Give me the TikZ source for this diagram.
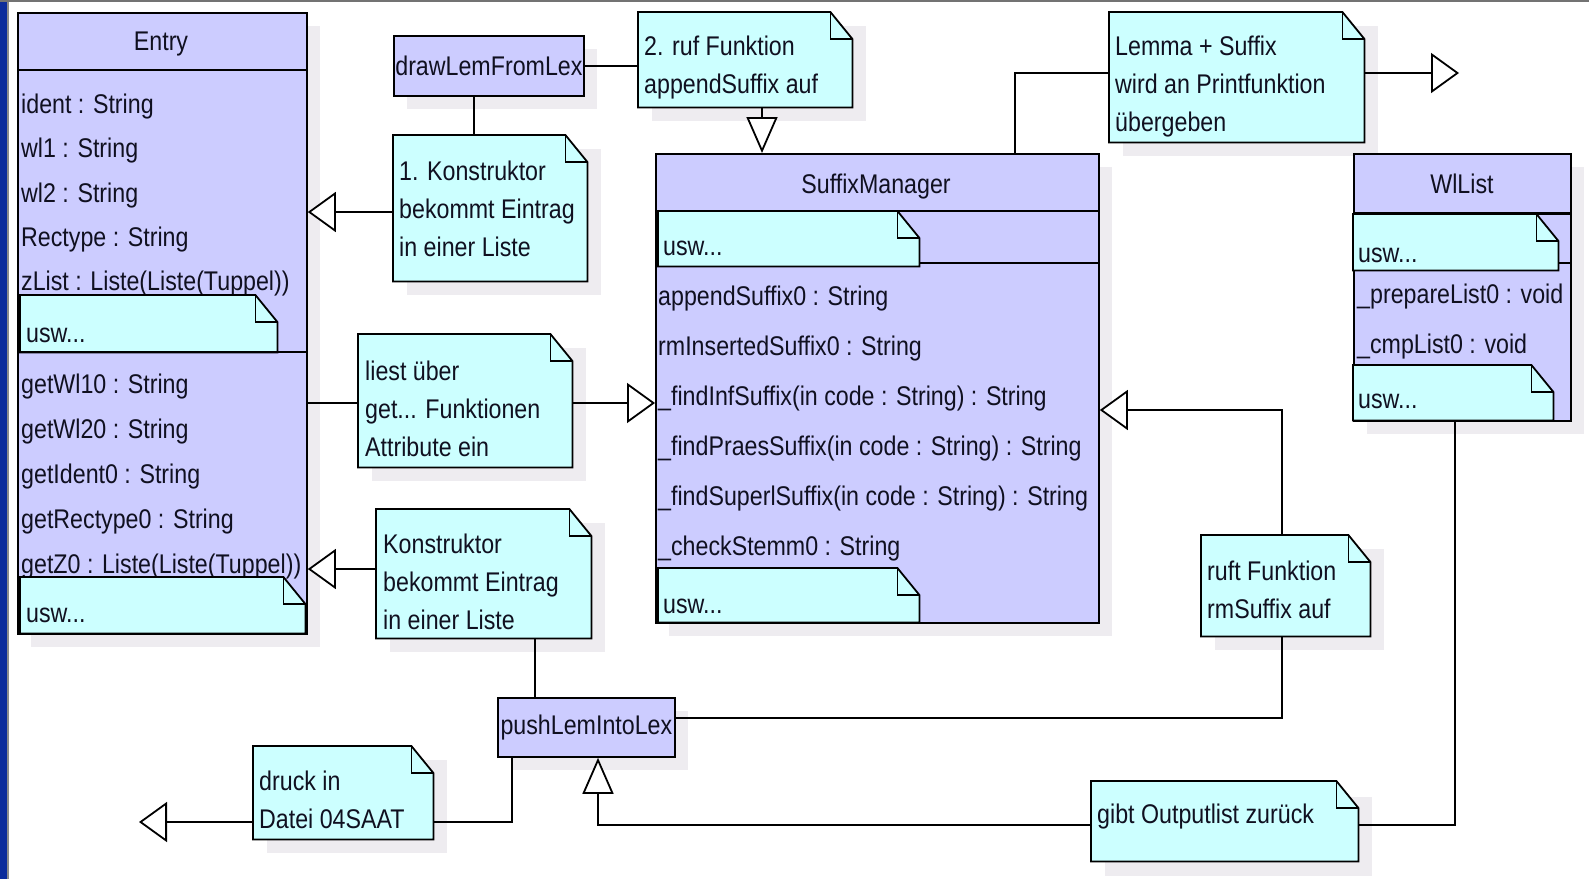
\documentclass[tikz,border=0pt]{standalone}
\usepackage{fontspec}
\setmainfont{Liberation Sans}[FakeStretch=0.86]
\usetikzlibrary{arrows.meta}
\definecolor{classfill}{RGB}{204,204,255}
\definecolor{notefill}{RGB}{204,255,255}
\definecolor{slideblue}{RGB}{12,44,156}
\definecolor{shadowc}{RGB}{238,236,240}
\definecolor{textc}{RGB}{16,16,32}
\tikzset{
  every node/.append style={font=\fontsize{27}{38}\selectfont},
  classbox/.style={draw=black, line width=1.8pt, fill=classfill, inner sep=0pt, anchor=north west},
  notebg/.style={inner sep=0pt, anchor=north west},
  notedraw/.style={draw=black, line width=1.8pt, fill=notefill, line join=miter},
  foldline/.style={draw=black, line width=1.8pt},
  txt/.style={anchor=base west, inner sep=0pt, text=textc},
  ctxt/.style={anchor=base, inner sep=0pt, text=textc},
  conn/.style={draw=black, line width=1.8pt},
  sepline/.style={draw=black, line width=1.8pt},
  htri/.style={-{Triangle[fill=white, length=28pt, width=40pt]}},
  vtri/.style={-{Triangle[fill=white, length=36pt, width=31pt]}},
}
% name, x, y, w, h
\newcommand\notebox[5]{%
  \node[notebg, minimum width=#4pt, minimum height=#5pt] (#1) at (#2,#3) {};
  \draw[notedraw] (#1.north west) -- ([xshift=-22pt]#1.north east) -- ([yshift=-27pt]#1.north east) -- (#1.south east) -- (#1.south west) -- cycle;
  \draw[foldline] ([xshift=-22pt]#1.north east) |- ([yshift=-27pt]#1.north east);
}
\newcommand\notetext[4]{% name, x, baseline y, text
  \node[txt] (#1) at (#2,#3) {\parbox[t]{300pt}{\raggedright #4}};
}
\begin{document}
\begin{tikzpicture}[x=1pt,y=-1pt]
\useasboundingbox (0,0) rectangle (1589,879);
\fill[white] (0,0) rectangle (1589,879);
\fill[slideblue] (0,0) rectangle (7,879);
\fill[black!45] (7,0) rectangle (9,879);
\fill[black!55] (0,0) rectangle (1589,2);

% shadows
\foreach \x/\y/\w/\h in {17/12/289/621, 393/35/190/60, 638/12/214/95, 393/135/194/146,
  358/334/214/133, 376/509/215/129, 655/153/443/469, 1109/12/255/130, 1353/153/217/267,
  1201/535/169/101, 497/697/177/59, 253/746/180/93, 1091/783/267/79}
  \fill[shadowc] (\x+14,\y+14) rectangle ++(\w,\h);

% ---------- Entry ----------
\node[classbox, minimum width=289pt, minimum height=621pt] (entry) at (17,12) {};
\coordinate (ey70) at (0,70);
\coordinate (ey352) at (0,352);
\draw[sepline] (entry.west |- ey70) -- (entry.east |- ey70);
\node[ctxt] (entryT) at (161,50) {Entry};
\node[txt] (ea1) at (21,113) {ident : String};
\node[txt] (ea2) at (21,157) {wl1 : String};
\node[txt] (ea3) at (21,202) {wl2 : String};
\node[txt] (ea4) at (21,246) {Rectype : String};
\node[txt] (ea5) at (21,290) {zList : Liste(Liste(Tuppel))};
\notebox{eu1}{20}{295}{257}{57}
\node[txt] (eu1t) at (26,342) {usw...};
\draw[sepline] (entry.west |- ey352) -- (entry.east |- ey352);
\node[txt] (em1) at (21,393) {getWl10 : String};
\node[txt] (em2) at (21,438) {getWl20 : String};
\node[txt] (em3) at (21,483) {getIdent0 : String};
\node[txt] (em4) at (21,528) {getRectype0 : String};
\node[txt] (em5) at (21,573) {getZ0 : Liste(Liste(Tuppel))};
\notebox{eu2}{20}{577}{285}{56}
\node[txt] (eu2t) at (26,622) {usw...};

% ---------- SuffixManager ----------
\node[classbox, minimum width=443pt, minimum height=469pt] (SM) at (655,153) {};
\coordinate (sy211) at (0,211);
\coordinate (sy263) at (0,263);
\draw[sepline] (SM.west |- sy211) -- (SM.east |- sy211);
\node[ctxt] (SMT) at (876,193) {SuffixManager};
\draw[sepline] (SM.west |- sy263) -- (SM.east |- sy263);
\notebox{su1}{658}{211}{261}{55}
\node[txt] (su1t) at (663,255) {usw...};
\node[txt] (sm1) at (658,305) {appendSuffix0 : String};
\node[txt] (sm2) at (658,355) {rmInsertedSuffix0 : String};
\node[txt] (sm3) at (658,405) {\_findInfSuffix(in code : String) : String};
\node[txt] (sm4) at (658,455) {\_findPraesSuffix(in code : String) : String};
\node[txt] (sm5) at (658,505) {\_findSuperlSuffix(in code : String) : String};
\node[txt] (sm6) at (658,555) {\_checkStemm0 : String};
\notebox{su2}{658}{568}{261}{54}
\node[txt] (su2t) at (663,613) {usw...};

% ---------- WlList ----------
\node[classbox, minimum width=217pt, minimum height=267pt] (WlList) at (1353,153) {};
\coordinate (wy213) at (0,213);
\coordinate (wy263) at (0,263);
\draw[draw=black, line width=3pt] (WlList.west |- wy213) -- (WlList.east |- wy213);
\node[ctxt] (WlT) at (1462,193) {WlList};
\draw[sepline] (WlList.west |- wy263) -- (WlList.east |- wy263);
\notebox{wu1}{1353}{214}{205}{56}
\node[txt] (wu1t) at (1358,262) {usw...};
\node[txt] (wm1) at (1357,303) {\_prepareList0 : void};
\node[txt] (wm2) at (1357,353) {\_cmpList0 : void};
\notebox{wu2}{1353}{365}{200}{55}
\node[txt] (wu2t) at (1358,408) {usw...};

% ---------- small classes ----------
\node[classbox, minimum width=190pt, minimum height=60pt] (drawLem) at (393,35) {};
\node[text=textc, inner sep=0pt] (drawLemT) at (drawLem.center) {drawLemFromLex};
\node[classbox, minimum width=177pt, minimum height=59pt] (pushLem) at (497,697) {};
\node[text=textc, inner sep=0pt] (pushLemT) at (pushLem.center) {pushLemIntoLex};

% ---------- notes ----------
\notebox{N2}{638}{12}{214}{95}
\notetext{N2t}{644}{55}{2. ruf Funktion\\appendSuffix auf}
\notebox{N1}{393}{135}{194}{146}
\notetext{N1t}{399}{180}{1. Konstruktor\\bekommt Eintrag\\in einer Liste}
\notebox{Nliest}{358}{334}{214}{133}
\notetext{Nliestt}{365}{380}{liest über\\get... Funktionen\\Attribute ein}
\notebox{NK}{376}{509}{215}{129}
\notetext{NKt}{383}{553}{Konstruktor\\bekommt Eintrag\\in einer Liste}
\notebox{Nlemma}{1109}{12}{255}{130}
\notetext{Nlemmat}{1115}{55}{Lemma + Suffix\\wird an Printfunktion\\übergeben}
\notebox{Nruft}{1201}{535}{169}{101}
\notetext{Nruftt}{1207}{580}{ruft Funktion\\rmSuffix auf}
\notebox{Ndruck}{253}{746}{180}{93}
\notetext{Ndruckt}{259}{790}{druck in\\Datei 04SAAT}
\notebox{Ngibt}{1091}{781}{267}{80}
\notetext{Ngibtt}{1097}{823}{gibt Outputlist zurück}

% ---------- connectors ----------
\coordinate (x474) at (474,0);
\coordinate (x762) at (762,0);
\coordinate (x535) at (535,0);
\coordinate (y212) at (0,212);
\coordinate (y403) at (0,403);
\coordinate (y569) at (0,569);
\coordinate (tipL) at (139,822);
\coordinate (c512) at (512,822);
\coordinate (c598) at (598,825);
\coordinate (c1455) at (1455,825);
\coordinate (c1282a) at (1282,718);
\coordinate (c1282b) at (1282,410);
\coordinate (c1015) at (1015,73);
\coordinate (tipR) at (1459,73);

\draw[conn] (drawLem.east) -- (drawLem.east -| N2.west);
\draw[conn] (drawLem.south -| x474) -- (N1.north -| x474);
\draw[conn,htri] (N1.west |- y212) -- (entry.east |- y212);
\draw[conn,vtri] (N2.south -| x762) -- (SM.north -| x762);
\draw[conn] (entry.east |- y403) -- (Nliest.west |- y403);
\draw[conn,htri] (Nliest.east |- y403) -- (SM.west |- y403);
\draw[conn,htri] (NK.west |- y569) -- (entry.east |- y569);
\draw[conn] (NK.south -| x535) -- (pushLem.north -| x535);
\draw[conn,htri] (Ndruck.west |- tipL) -- (tipL);
\draw[conn] (Ndruck.east |- c512) -- (c512) -- (pushLem.south -| c512);
\draw[conn,vtri] (Ngibt.west |- c598) -- (c598) -- (pushLem.south -| c598);
\draw[conn] (Ngibt.east |- c1455) -- (c1455) -- (WlList.south -| c1455);
\draw[conn] (pushLem.east |- c1282a) -- (c1282a) -- (Nruft.south -| c1282a);
\draw[conn,htri] (Nruft.north -| c1282b) -- (c1282b) -- (SM.east |- c1282b);
\draw[conn] (SM.north -| c1015) -- (c1015) -- (Nlemma.west |- c1015);
\draw[conn,htri] (Nlemma.east |- tipR) -- (tipR);
\end{tikzpicture}
\end{document}
